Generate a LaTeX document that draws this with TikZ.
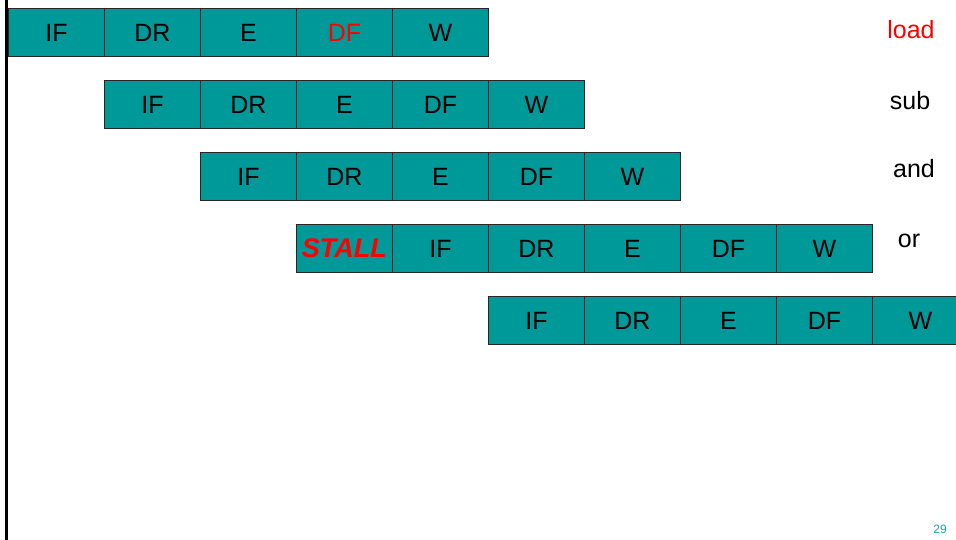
\documentclass[tikz,border=0pt]{standalone}
\usepackage{fontspec}
\setmainfont{Liberation Sans}
\definecolor{cellteal}{HTML}{009999}
\definecolor{hazard}{HTML}{FF0000}
\definecolor{pagenum}{HTML}{1AA3A3}
\begin{document}
\begin{tikzpicture}[x=1pt,y=-1pt,
  cell/.style={draw=black!85, line width=0.9pt, fill=cellteal, minimum width=96pt,
    minimum height=48pt, inner sep=0pt, anchor=north west,
    font=\fontsize{25}{28}\selectfont},
  instr/.style={font=\fontsize{25}{28}\selectfont, inner sep=0pt}]
\useasboundingbox (0,0) rectangle (956,540);

% left margin rule
\coordinate (ruletop) at (6.5,0);
\coordinate (rulebot) at (6.5,540);
\draw[line width=3pt] (ruletop) -- (rulebot);

% load
\foreach \s [count=\i] in {IF,DR,E,DF,W}
  \node[cell] (a\i) at ({8+96*(\i-1)},8) {\ifnum\i=4 \textcolor{hazard}{\s}\else\s\fi};
% sub
\foreach \s [count=\i] in {IF,DR,E,DF,W}
  \node[cell] (b\i) at ({104+96*(\i-1)},80) {\s};
% and
\foreach \s [count=\i] in {IF,DR,E,DF,W}
  \node[cell] (c\i) at ({200+96*(\i-1)},152) {\s};
% or, delayed by one cycle
\node[cell] (d0) at (296,224) {\fontsize{27}{30}\selectfont\textcolor{hazard}{\textbf{\textit{STALL}}}};
\foreach \s [count=\i] in {IF,DR,E,DF,W}
  \node[cell] (d\i) at ({392+96*(\i-1)},224) {\s};
% next instruction
\foreach \s [count=\i] in {IF,DR,E,DF,W}
  \node[cell] (e\i) at ({488+96*(\i-1)},296) {\s};

% instruction names
\node[instr, text=hazard] (lload) at (911,30) {load};
\node[instr] (lsub) at (910,101) {sub};
\node[instr] (land) at (914,169) {and};
\node[instr] (lor) at (909,241) {or};

% slide number
\node[font=\fontsize{12}{14}\selectfont, text=pagenum] (pg) at (940,529) {29};
\end{tikzpicture}
\end{document}
